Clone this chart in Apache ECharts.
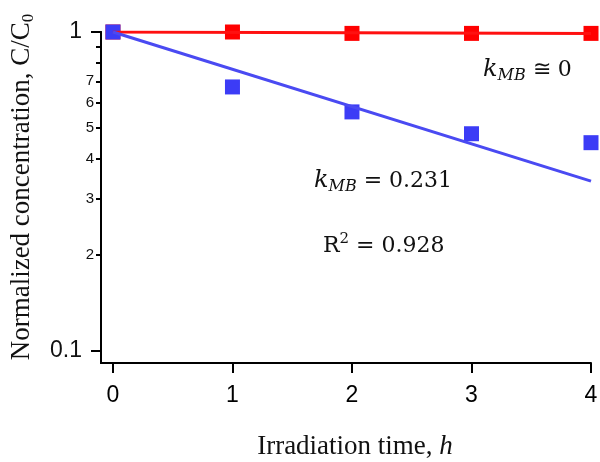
<!DOCTYPE html>
<html>
<head>
<meta charset="utf-8">
<script src="https://cdn.jsdelivr.net/npm/echarts@6/dist/echarts.min.js"></script>
<style>
  html, body { margin: 0; padding: 0; background: #fff; }
  #main { width: 600px; height: 462px; }
</style>
</head>
<body>
<div id="main"></div>
<script>
// irradiation time (h)
var hours = [0, 1, 2, 3, 4];
// C/C0, dark control (red) and irradiated (blue)
var redVals = [1, 1, 0.99, 0.99, 0.99];
var blueVals = [1, 0.672, 0.561, 0.479, 0.449];
// fitted lines, end points
var fitHours = [0, 4];
var redFit = [1, 0.99];
var blueFit = [1, 0.34];
// y axis (log scale): long ticks at the decades, short ticks between
var yMajorVals = [0.1, 1];
var yMinorVals = [0.2, 0.3, 0.4, 0.5, 0.6, 0.7, 0.8, 0.9];
var yLabelVals = [0.1, 0.2, 0.3, 0.4, 0.5, 0.6, 0.7, 1];
var yLabelText = ['0.1', '2', '3', '4', '5', '6', '7', '1'];

var serif = 'Liberation Serif';
var mathFont = 'DejaVu Serif';
var sans = 'Liberation Sans';

function lg(v) { return Math.log10(v); }
function pairs(xs, ys) {
  var res = [];
  for (var i = 0; i < xs.length; i++) res.push([xs[i], lg(ys[i])]);
  return res;
}

var chart = echarts.init(document.getElementById('main'));

var subRich = {
  k: { fontSize: 24, fontFamily: mathFont, fontStyle: 'italic', lineHeight: 28 },
  s: { fontSize: 16, fontFamily: mathFont, fontStyle: 'italic', lineHeight: 16, verticalAlign: 'bottom' },
  t: { fontSize: 22, fontFamily: mathFont, lineHeight: 28 }
};

var option = {
  animation: false,
  grid: { left: 101, right: 9, top: 32, bottom: 99, containLabel: false, outerBoundsMode: 'none' },
  xAxis: {
    type: 'value',
    min: -0.1,
    max: 4,
    splitLine: { show: false },
    axisLine: { onZero: false, lineStyle: { color: '#000', width: 2 } },
    axisTick: { customValues: hours, length: 10, lineStyle: { color: '#000', width: 2 } },
    axisLabel: { customValues: hours, margin: 21, color: '#000', fontSize: 23, fontFamily: sans }
  },
  yAxis: [
    {
      // short ticks + all labels
      type: 'value', min: -1.04, max: 0, position: 'left',
      splitLine: { show: false },
      axisLine: { show: true, onZero: false, lineStyle: { color: '#000', width: 2 } },
      axisTick: { show: true, customValues: yMinorVals.map(lg), length: 5, lineStyle: { color: '#000', width: 2 } },
      axisLabel: {
        customValues: yLabelVals.map(lg), margin: 7, color: '#111', fontFamily: sans,
        formatter: function (v) {
          for (var i = 0; i < yLabelVals.length; i++) {
            if (Math.abs(lg(yLabelVals[i]) - v) < 1e-6) {
              var t = yLabelText[i];
              return (t === '1' || t === '0.1') ? '{b|' + t + '}' : '{s|' + t + '}';
            }
          }
          return '';
        },
        rich: {
          b: { fontSize: 23, fontFamily: sans, color: '#111', padding: [0, 12, 0, 0] },
          s: { fontSize: 15, fontFamily: sans, color: '#111' }
        }
      }
    },
    {
      // long ticks at the decades
      type: 'value', min: -1.04, max: 0, position: 'left',
      splitLine: { show: false },
      axisLine: { show: true, onZero: false, lineStyle: { color: '#000', width: 2 } },
      axisTick: { show: true, customValues: yMajorVals.map(lg), length: 10, lineStyle: { color: '#000', width: 2 } },
      axisLabel: { show: false }
    }
  ],
  series: [
    {
      type: 'scatter', symbol: 'rect', symbolSize: 15, z: 2,
      itemStyle: { color: '#ff0000', opacity: 1 },
      data: pairs(hours, redVals)
    },
    {
      type: 'scatter', symbol: 'rect', symbolSize: 15, z: 3,
      itemStyle: { color: '#3c3cf6', opacity: 1 },
      data: pairs(hours, blueVals)
    },
    {
      type: 'line', showSymbol: false, z: 4,
      lineStyle: { color: '#ff1010', width: 3 },
      data: pairs(fitHours, redFit)
    },
    {
      type: 'line', showSymbol: false, z: 4,
      lineStyle: { color: '#4a4af2', width: 3 },
      data: pairs(fitHours, blueFit)
    }
  ],
  graphic: [
    {
      type: 'text', x: 22, y: 187, rotation: Math.PI / 2,
      style: {
        text: '{a|Normalized concentration, C/C}{s|0}',
        align: 'center', verticalAlign: 'middle', fill: '#111',
        rich: {
          a: { fontSize: 27, fontFamily: serif, lineHeight: 30 },
          s: { fontSize: 17, fontFamily: serif, lineHeight: 17, verticalAlign: 'bottom' }
        }
      }
    },
    {
      type: 'text', x: 355, y: 447,
      style: {
        text: '{a|Irradiation time, }{i|h}',
        align: 'center', verticalAlign: 'middle', fill: '#111',
        rich: {
          a: { fontSize: 27, fontFamily: serif },
          i: { fontSize: 27, fontFamily: serif, fontStyle: 'italic' }
        }
      }
    },
    {
      type: 'text', x: 483, y: 70,
      style: {
        text: '{k|k}{s|MB}{t| \u2245 0}',
        align: 'left', verticalAlign: 'middle', fill: '#111',
        rich: subRich
      }
    },
    {
      type: 'text', x: 314, y: 181,
      style: {
        text: '{k|k}{s|MB}{t| = 0.231}',
        align: 'left', verticalAlign: 'middle', fill: '#111',
        rich: subRich
      }
    },
    {
      type: 'text', x: 323, y: 246,
      style: {
        text: '{t|R}{p|2}{t| = 0.928}',
        align: 'left', verticalAlign: 'middle', fill: '#111',
        rich: {
          t: { fontSize: 22, fontFamily: mathFont, lineHeight: 28 },
          p: { fontSize: 15, fontFamily: mathFont, lineHeight: 15, verticalAlign: 'top' }
        }
      }
    }
  ]
};

chart.setOption(option);
</script>
</body>
</html>
